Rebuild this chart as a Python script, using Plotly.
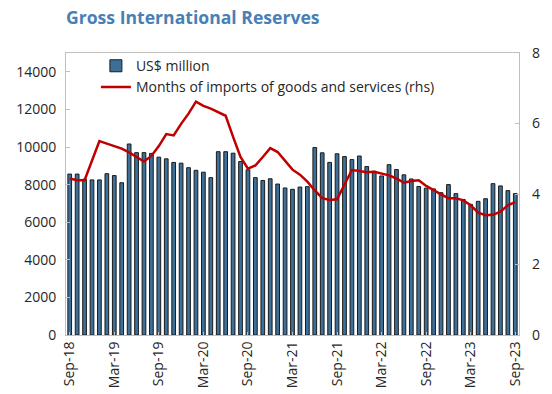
import pandas as pd
import plotly.graph_objects as go

months = list(pd.date_range("2018-09-01", periods=61, freq="MS").strftime("%b-%y"))

reserves = [8560, 8560, 8290, 8250, 8250, 8580, 8480, 8100, 10160, 9700,
            9700, 9660, 9460, 9370, 9180, 9140, 8900, 8760, 8660, 8370,
            9750, 9750, 9670, 9230, 8790, 8370, 8220, 8310, 8030, 7820,
            7750, 7870, 7890, 9970, 9690, 9180, 9640, 9490, 9330, 9520,
            8960, 8710, 8460, 9060, 8800, 8520, 8300, 7900, 7810, 7770,
            7570, 8000, 7520, 7210, 6950, 7110, 7250, 8050, 7930, 7680,
            7520]

import_months = [4.44, 4.39, 4.39, 4.95, 5.50, 5.43, 5.36, 5.29, 5.18, 5.05,
                 4.92, 5.08, 5.36, 5.70, 5.66, 5.99, 6.28, 6.62, 6.50, 6.42,
                 6.32, 6.22, 5.62, 5.05, 4.72, 4.81, 5.05, 5.30, 5.19, 4.93,
                 4.69, 4.55, 4.35, 4.10, 3.88, 3.83, 3.85, 4.27, 4.68, 4.65,
                 4.62, 4.63, 4.58, 4.53, 4.44, 4.32, 4.37, 4.39, 4.23, 4.10,
                 3.99, 3.88, 3.88, 3.82, 3.68, 3.47, 3.40, 3.41, 3.50, 3.68,
                 3.77]

tick_labels = months[::6]
left_ticks = [0, 2000, 4000, 6000, 8000, 10000, 12000, 14000]
right_ticks = [0, 2, 4, 6, 8]

FONT = "Open Sans"
GRAY = "#BFBFBF"

fig = go.Figure()
fig.add_trace(go.Bar(
    x=months, y=reserves, name="US$ million",
    marker=dict(color="#3D7099", line=dict(color="#1a1a1a", width=1)),
    yaxis="y",
))
fig.add_trace(go.Scatter(
    x=months, y=import_months, name="Months of imports of goods and services (rhs)",
    mode="lines", line=dict(color="#C00000", width=2.5),
    yaxis="y2",
))

fig.update_layout(
    width=552, height=394,
    margin=dict(l=66, r=33, t=53, b=59),
    paper_bgcolor="white", plot_bgcolor="white",
    font=dict(family=FONT, size=14, color="#262626"),
    bargap=0.5,
    showlegend=True,
    legend=dict(x=0.066, y=1.01, xanchor="left", yanchor="top",
                bgcolor="rgba(0,0,0,0)", font=dict(size=14, color="#262626"),
                tracegroupgap=0, itemwidth=30),
    title=dict(text="<b>Gross International Reserves</b>", x=0, xref="paper",
               xanchor="left", y=0.955, yref="container", yanchor="middle",
               font=dict(family=FONT, size=17.6, color="#4A7FB5")),
    xaxis=dict(
        type="category", tickmode="array", tickvals=tick_labels, ticktext=tick_labels,
        tickangle=-90, showline=True, linecolor=GRAY, linewidth=1, mirror=True,
        ticks="inside", ticklen=3, tickcolor=GRAY, showgrid=False,
        tickfont=dict(size=14), range=[-0.5, 60.5], automargin=False,
    ),
    yaxis=dict(
        range=[0, 15000], tickvals=left_ticks, tickformat="d", showgrid=False,
        zeroline=False, showline=True, linecolor=GRAY, linewidth=1, mirror=True,
        ticks="inside", ticklen=4, tickcolor=GRAY, tickfont=dict(size=14),
        ticklabelstandoff=6, automargin=False,
    ),
    yaxis2=dict(
        range=[0, 8], tickvals=right_ticks, overlaying="y", side="right",
        showgrid=False, zeroline=False, showline=False,
        ticks="inside", ticklen=4, tickcolor=GRAY, tickfont=dict(size=14),
        ticklabelstandoff=12, automargin=False,
    ),
)

fig.write_html("out.html")
